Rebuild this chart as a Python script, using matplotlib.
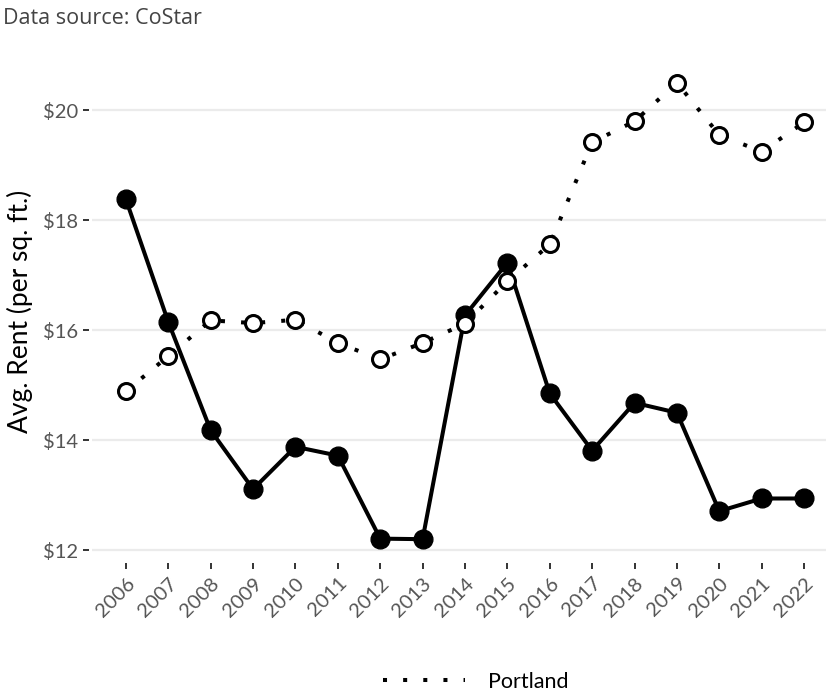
import matplotlib.pyplot as plt
from matplotlib.ticker import FuncFormatter
from matplotlib.lines import Line2D

# values
years = list(range(2006, 2023))
portland_rent = [14.89, 15.53, 16.18, 16.13, 16.19, 15.77, 15.47, 15.77, 16.12,
                 16.89, 17.56, 19.42, 19.80, 20.50, 19.55, 19.25, 19.78]
other_rent = [18.38, 16.15, 14.18, 13.11, 13.88, 13.72, 12.21, 12.20, 16.27,
              17.23, 14.85, 13.81, 14.68, 14.50, 12.71, 12.94, 12.94]
y_ticks = [12, 14, 16, 18, 20]

fig = plt.figure(figsize=(8.26, 6.92), dpi=100)
ax = fig.add_axes([92 / 826, 1 - 562 / 692, (838 - 92) / 826, (562 - 60) / 692])

dotted = (0, (1, 4))
ax.plot(years, other_rent, color='black', lw=2.9, marker='o', markersize=13.5,
        markerfacecolor='black', markeredgecolor='black', zorder=3)
ax.plot(years, portland_rent, color='black', lw=2.9, linestyle=dotted,
        marker='o', markersize=11.5, markerfacecolor='white', markeredgecolor='black',
        markeredgewidth=2.2, zorder=4)

ax.set_xlim(2005.2, 2022.8)
ax.set_ylim(11.785, 20.915)
ax.set_xticks(years)
ax.set_yticks(y_ticks)
ax.yaxis.set_major_formatter(FuncFormatter(lambda v, p: f'${v:.0f}'))

ax.grid(axis='y', color='#ebebeb', lw=1.6)
ax.set_axisbelow(True)
for s in ax.spines.values():
    s.set_visible(False)
ax.spines['left'].set_position(('outward', 2))
ax.spines['bottom'].set_position(('outward', 1))

ax.tick_params(axis='both', colors='#333333', length=4, width=1.4,
               labelcolor='#555555', labelsize=14.5)
ax.tick_params(axis='y', pad=4)
ax.tick_params(axis='x', pad=4)
for lab in ax.get_xticklabels():
    lab.set_rotation(45)
    lab.set_ha('right')
    lab.set_va('top')
    lab.set_rotation_mode('anchor')
    lab.set_fontfamily('Lato')
for lab in ax.get_yticklabels():
    lab.set_fontfamily('Lato')

ax.set_ylabel('Avg. Rent (per sq. ft.)', fontsize=19, family='Lato', color='black', labelpad=7)

fig.text(3 / 826, 1 - 18 / 692, 'Data source: CoStar', fontsize=15.5, family='Open Sans',
         color='#444444', va='center', ha='left')

handle = Line2D([], [], color='black', lw=2.9, linestyle=dotted)
fig.legend([handle], ['Portland'], loc='center', bbox_to_anchor=(476 / 826, 10 / 692),
           frameon=False, handlelength=3.8, handletextpad=1.07,
           prop={'family': 'Lato', 'size': 15.5})

fig.savefig('out.png', dpi=100)
